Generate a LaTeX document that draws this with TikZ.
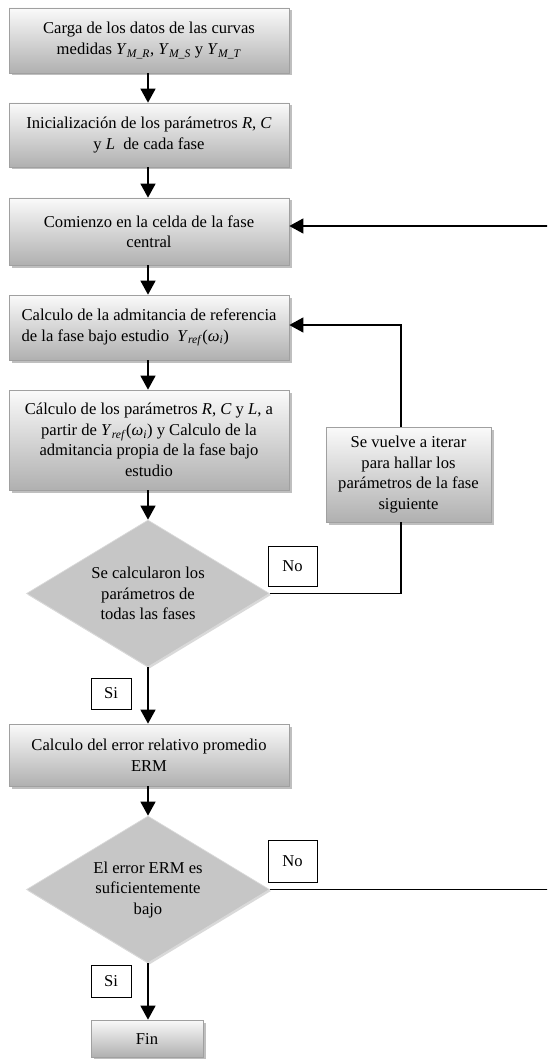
\documentclass[tikz,border=0pt]{standalone}
\usepackage{fontspec}
\setmainfont{Liberation Serif}
\usetikzlibrary{shapes.geometric,arrows.meta,shadows}
\definecolor{boxtop}{RGB}{250,250,250}
\definecolor{boxbot}{RGB}{176,176,176}
\definecolor{boxline}{RGB}{160,160,160}
\definecolor{diafill}{RGB}{198,198,198}
\definecolor{dialine}{RGB}{218,218,218}
\newcommand{\Ysb}[1]{\textit{Y}\textsubscript{\textit{#1}}}
\newcommand{\Yrefw}{\textit{Y}\textsubscript{\textit{ref}}(\textit{ω}\textsubscript{\textit{i}})}
\begin{document}
\begin{tikzpicture}[x=1pt,y=-1pt,
  font=\fontsize{16.6}{20.5}\selectfont,
  procbox/.style={draw=boxline, line width=0.7pt, top color=boxtop, bottom color=boxbot,
    minimum width=280pt, inner sep=2pt, align=center,
    drop shadow={shadow xshift=2.5pt, shadow yshift=-2.5pt, fill=black, opacity=0.25}},
  decision/.style={shape=diamond, draw=dialine, line width=0.7pt, fill=diafill,
    minimum width=243pt, minimum height=147pt, aspect=1.65, inner sep=0pt, align=center,
    drop shadow={shadow xshift=1.5pt, shadow yshift=-1.5pt, fill=black, opacity=0.15}},
  lbl/.style={draw=black, line width=0.8pt, fill=white, inner sep=0pt},
  arr/.style={line width=1.4pt, -{Triangle[length=14pt,width=15pt]}},
  plain/.style={line width=1.4pt}
]
\useasboundingbox (0,0) rectangle (547,1059);
\clip (0,0) rectangle (547,1059);

\node[procbox, minimum height=65pt] (b1) at (149,40.5)
  {Carga de los datos de las curvas\\medidas \Ysb{M\_R}, \Ysb{M\_S} y \Ysb{M\_T}};
\node[procbox, minimum height=64pt] (b2) at (149,135)
  {Inicialización de los parámetros \textit{R}, \textit{C}\\y \textit{L}\ \ de cada fase};
\node[procbox, minimum height=67pt] (b3) at (149,231.5)
  {Comienzo en la celda de la fase\\central};
\node[procbox, minimum height=65pt, align=left] (b4) at (149,327.5)
  {Calculo de la admitancia de referencia\\de la fase bajo estudio\ \ \Yrefw};
\node[procbox, minimum height=100pt] (b5) at (149,440)
  {Cálculo de los parámetros \textit{R}, \textit{C} y \textit{L}, a\\partir de \Yrefw{} y Calculo de la\\admitancia propia de la fase bajo\\estudio};
\node[procbox, minimum width=165pt, minimum height=95pt] (sv) at (408.5,474.5)
  {Se vuelve a iterar\\para hallar los\\parámetros de la fase\\siguiente};
\node[decision] (d1) at (148,593.5)
  {Se calcularon los\\parámetros de\\todas las fases};
\node[lbl, minimum width=49pt, minimum height=40pt] (no1) at (292.5,566) {No};
\node[lbl, minimum width=40pt, minimum height=31pt] (si1) at (111,693.5) {Si};
\node[procbox, minimum height=62pt] (erm) at (149,755)
  {Calculo del error relativo promedio\\ERM};
\node[decision] (d2) at (148,889.5)
  {El error ERM es\\suficientemente\\bajo};
\node[lbl, minimum width=49pt, minimum height=42pt] (no2) at (292.5,861) {No};
\node[lbl, minimum width=40pt, minimum height=32pt] (si2) at (111,981) {Si};
\node[procbox, minimum width=112pt, minimum height=37pt] (fin) at (147,1038.5) {Fin};

\coordinate (rt) at (560,226);

\draw[arr] (b1.south -| 148,0) -- (b2.north -| 148,0);
\draw[arr] (b2.south -| 148,0) -- (b3.north -| 148,0);
\draw[arr] (b3.south -| 148,0) -- (b4.north -| 148,0);
\draw[arr] (b4.south -| 148,0) -- (b5.north -| 148,0);
\draw[arr] (b5.south -| 148,0) -- (d1.north);
\draw[arr] (d1.south) -- (erm.north -| 148,0);
\draw[arr] (erm.south -| 148,0) -- (d2.north);
\draw[arr] (d2.south) -- (fin.north -| 148,0);
\draw[plain] (d1.east) -| ([xshift=-7.5pt]sv.south);
\draw[arr] ([xshift=-7.5pt]sv.north) |- (b4.east |- 0,325);
\draw[arr] (d2.east) -| (rt) -- (b3.east |- rt);
\end{tikzpicture}
\end{document}
